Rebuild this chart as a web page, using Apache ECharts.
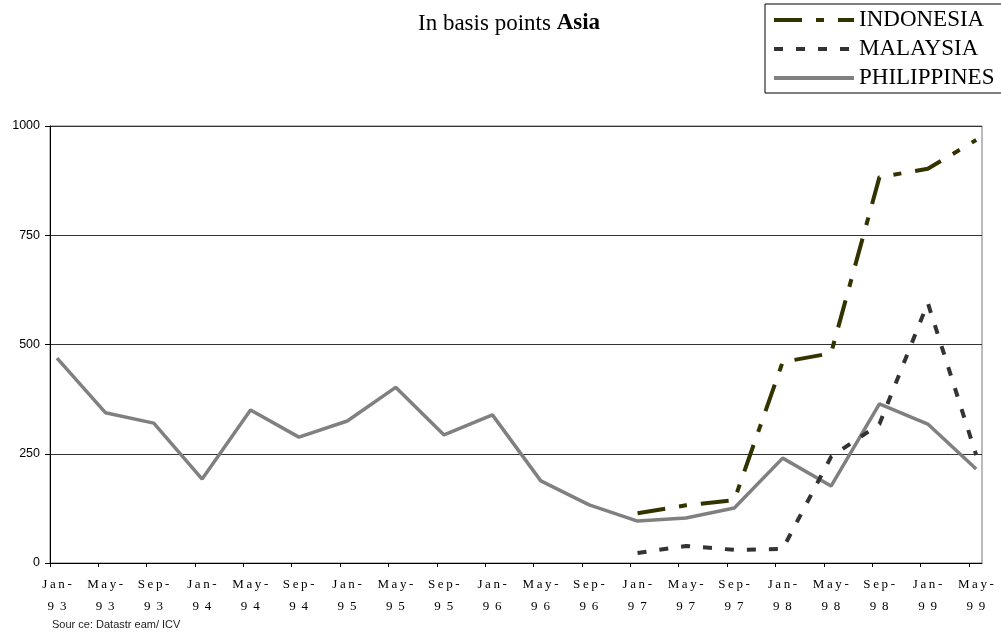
<!DOCTYPE html>
<html>
<head>
<meta charset="utf-8">
<script src="https://cdn.jsdelivr.net/npm/echarts@6/dist/echarts.min.js"></script>
<style>
  html, body { margin: 0; padding: 0; background: #fff; }
  #chart { width: 1001px; height: 644px; }
</style>
</head>
<body>
<div id="chart"></div>
<script>
const months = ['Jan-93', 'May-93', 'Sep-93', 'Jan-94', 'May-94', 'Sep-94', 'Jan-95', 'May-95', 'Sep-95', 'Jan-96',
  'May-96', 'Sep-96', 'Jan-97', 'May-97', 'Sep-97', 'Jan-98', 'May-98', 'Sep-98', 'Jan-99', 'May-99'];
const indonesia = [null, null, null, null, null, null, null, null, null, null,
  null, null, 114, 132, 144, 460, 480, 883, 902, 968];
const malaysia = [null, null, null, null, null, null, null, null, null, null,
  null, null, 23, 39, 30, 32, 243, 318, 595, 247];
const philippines = [469, 344, 320, 192, 350, 288, 325, 402, 293, 339,
  188, 133, 96, 103, 126, 240, 176, 364, 318, 215];
const yTicks = [0, 250, 500, 750, 1000];

// x ticks sit a little left of each point (Excel style), counted from min
const xShift = 0.145;

// category labels drawn with spaced letters, two lines
function spaced(s) {
  const parts = s.split('-');
  return parts[0].split('').join('\u2009') + '\u2009-\n' + parts[1].split('').join(' \u2009');
}

function pairs(arr) {
  return arr.map((v, i) => [i, v]);
}

const chart = echarts.init(document.getElementById('chart'));
chart.setOption({
  animation: false,
  title: {
    text: '{a|In basis points }{b|Asia}',
    left: 413,
    top: 7,
    textStyle: {
      rich: {
        a: { fontFamily: 'Liberation Serif', fontSize: 23, fontWeight: 'normal', color: '#000' },
        b: { fontFamily: 'Liberation Serif', fontSize: 23, fontWeight: 'bold', color: '#000' }
      }
    }
  },
  legend: {
    orient: 'vertical',
    left: 765,
    top: 4,
    padding: [4, 60, 3, 7],
    itemGap: 5,
    itemWidth: 80,
    itemHeight: 14,
    borderColor: '#000',
    borderWidth: 1,
    itemStyle: { opacity: 0 },
    lineStyle: { width: 4 },
    textStyle: { fontFamily: 'Liberation Serif', fontSize: 23, lineHeight: 24, color: '#000' },
    data: ['INDONESIA', 'MALAYSIA', 'PHILIPPINES']
  },
  grid: {
    left: 50,
    right: 19,
    top: 126,
    bottom: 81,
    show: true,
    borderColor: '#777',
    borderWidth: 1
  },
  xAxis: {
    type: 'value',
    min: -xShift,
    max: 19.12,
    interval: 1,
    splitLine: { show: false },
    axisLine: { lineStyle: { color: '#000', width: 1 } },
    axisTick: { length: 4, lineStyle: { color: '#000' } },
    axisLabel: {
      margin: 11,
      padding: [0, 0, 0, 14],
      fontFamily: 'Liberation Serif',
      fontSize: 13,
      lineHeight: 22,
      color: '#000',
      showMaxLabel: false,
      formatter: function (v) {
        const i = Math.round(v + xShift);
        if (Math.abs(v + xShift - i) > 0.01 || i < 0 || i >= months.length) return '';
        return spaced(months[i]);
      }
    }
  },
  yAxis: {
    type: 'value',
    min: yTicks[0],
    max: yTicks[yTicks.length - 1],
    interval: 250,
    axisLine: { show: true, onZero: false, lineStyle: { color: '#000', width: 1 } },
    axisTick: { show: true, length: 5, lineStyle: { color: '#000' } },
    splitLine: { lineStyle: { color: '#333', width: 1 } },
    axisLabel: {
      margin: 10,
      fontFamily: 'Liberation Sans',
      fontSize: 12.5,
      color: '#000',
      formatter: v => String(v)
    }
  },
  graphic: [{
    type: 'text',
    left: 52,
    top: 619,
    style: { text: 'Sour ce: Datastr eam/ ICV', font: '11px "Liberation Sans"', fill: '#222' }
  }],
  series: [
    {
      name: 'INDONESIA',
      type: 'line',
      symbol: 'none',
      data: pairs(indonesia),
      color: '#333300',
      lineStyle: { color: '#333300', width: 4, type: [28, 14, 8, 14] },
      z: 4
    },
    {
      name: 'MALAYSIA',
      type: 'line',
      symbol: 'none',
      data: pairs(malaysia),
      color: '#333333',
      lineStyle: { color: '#333333', width: 4, type: [9, 13] },
      z: 3
    },
    {
      name: 'PHILIPPINES',
      type: 'line',
      symbol: 'none',
      data: pairs(philippines),
      color: '#808080',
      lineStyle: { color: '#808080', width: 3.5 },
      z: 2
    }
  ]
});
</script>
</body>
</html>
